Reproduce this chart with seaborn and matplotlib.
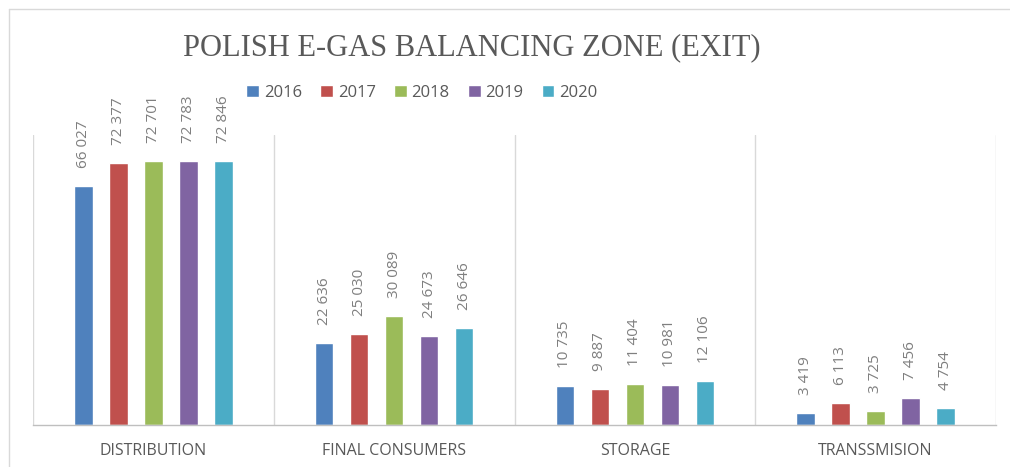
import matplotlib
matplotlib.use("Agg")
import matplotlib.pyplot as plt
import seaborn as sns
import pandas as pd
from matplotlib.lines import Line2D

categories = ["DISTRIBUTION", "FINAL CONSUMERS", "STORAGE", "TRANSSMISION"]
years = ["2016", "2017", "2018", "2019", "2020"]
v2016 = [66027, 22636, 10735, 3419]
v2017 = [72377, 25030, 9887, 6113]
v2018 = [72701, 30089, 11404, 3725]
v2019 = [72783, 24673, 10981, 7456]
v2020 = [72846, 26646, 12106, 4754]
colors = ["#4F81BD", "#C0504D", "#9BBB59", "#8064A2", "#4BACC6"]
title = "POLISH E-GAS BALANCING ZONE (EXIT)"

series = [v2016, v2017, v2018, v2019, v2020]
rows = []
for y, vals in zip(years, series):
    for c, v in zip(categories, vals):
        rows.append({"category": c, "year": y, "value": v})
df = pd.DataFrame(rows)

sns.set_theme(style="white")
plt.rcParams["font.family"] = ["Open Sans", "DejaVu Sans"]

fig = plt.figure(figsize=(10.10, 4.67), dpi=100)
ax = fig.add_axes([33 / 1010, 42 / 467, 963 / 1010, 290 / 467])

sns.barplot(data=df, x="category", y="value", hue="year", order=categories,
            hue_order=years, palette=colors, width=0.727, gap=0.477,
            saturation=1, ax=ax, legend=True, errorbar=None)

ax.set_xlim(-0.5, len(categories) - 0.5)
ax.set_ylim(0, 80000)

for cont in ax.containers:
    labels = [f"{int(round(b.get_height())):,}".replace(",", " ") for b in cont]
    ax.bar_label(cont, labels=labels, rotation=90, padding=13,
                 color="#7f7f7f", fontsize=11)

for i in range(len(categories) + 1):
    ax.axvline(i - 0.5, color="#d9d9d9", lw=1, zorder=0)

for s in ["top", "right", "left"]:
    ax.spines[s].set_visible(False)
ax.spines["bottom"].set_color("#bfbfbf")
ax.spines["bottom"].set_linewidth(1)
ax.set_yticks([])
ax.set_xlabel("")
ax.set_ylabel("")
ax.tick_params(axis="x", length=0, pad=13, labelsize=11.5, colors="#595959")

handles, labs = ax.get_legend_handles_labels()
ax.get_legend().remove()
fig.legend(handles, labs, loc="center", bbox_to_anchor=(422 / 1010, 1 - 93 / 467),
           ncol=5, frameon=False, handlelength=0.75, handleheight=0.75,
           handletextpad=0.3, columnspacing=1.1, fontsize=12,
           labelcolor="#595959")

fig.text(472 / 1010, 1 - 48 / 467, title, ha="center", va="center",
         fontsize=22, color="#595959", family=["Liberation Serif", "DejaVu Serif"])

# outer chart border
fig.add_artist(Line2D([9 / 1010, 9 / 1010], [0, 1 - 9 / 467], transform=fig.transFigure,
                      color="#d9d9d9", lw=1))
fig.add_artist(Line2D([9 / 1010, 1], [1 - 9 / 467, 1 - 9 / 467], transform=fig.transFigure,
                      color="#d9d9d9", lw=1))

fig.savefig("out.png", dpi=100, facecolor="white")
